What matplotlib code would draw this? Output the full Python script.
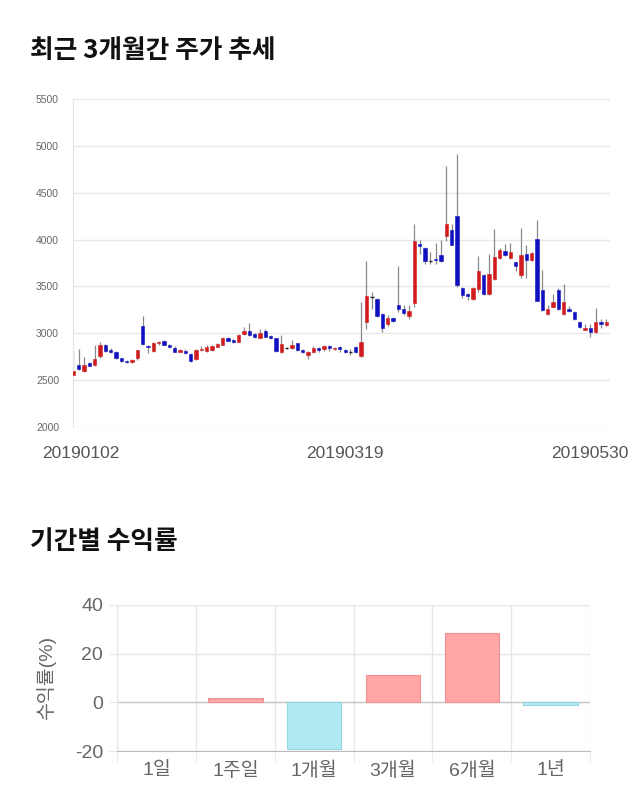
import numpy as np
import matplotlib
matplotlib.use('Agg')
import matplotlib.pyplot as plt

plt.rcParams['font.family'] = ['Liberation Sans', 'Noto Sans CJK KR']
plt.rcParams['axes.unicode_minus'] = False

# daily candles, 2019-01-02 .. 2019-05-30 (trading days)
opens = [2560, 2665, 2595, 2680, 2665, 2760, 2880, 2820, 2805, 2735,
         2705, 2690, 2735, 3080, 2865, 2815, 2895, 2920, 2880, 2845,
         2805, 2815, 2775, 2730, 2825, 2814, 2825, 2857, 2879, 2950,
         2929, 2911, 2993, 3029, 2993, 2950, 3029, 2975, 2946, 2804,
         2839, 2839, 2893, 2821, 2768, 2804, 2839, 2832, 2861, 2832,
         2850, 2821, 2804, 2850, 2754, 3118, 3386, 3368, 3207, 3100,
         3164, 3304, 3261, 3189, 3321, 3957, 3911, 3771, 3796, 3839,
         4039, 4107, 4250, 3482, 3421, 3361, 3475, 3618, 3418, 3582,
         3807, 3879, 3807, 3761, 3625, 3850, 3779, 4004, 3457, 3207,
         3279, 3464, 3207, 3261, 3225, 3125, 3039, 3054, 3011, 3118,
         3089]
highs = [2810, 2830, 2745, 2690, 2870, 2905, 2890, 2845, 2815, 2740,
         2715, 2730, 2825, 3180, 2870, 2910, 2915, 2930, 2890, 2860,
         2830, 2835, 2790, 2830, 2860, 2870, 2880, 2900, 2960, 2965,
         2935, 2990, 3064, 3107, 3000, 3050, 3050, 2985, 2950, 2982,
         2850, 2925, 2900, 2830, 2815, 2860, 2850, 2870, 2870, 2855,
         2860, 2830, 2830, 2860, 3330, 3768, 3439, 3380, 3215, 3200,
         3170, 3714, 3300, 3304, 4161, 3996, 3920, 3868, 3968, 3993,
         4789, 4171, 4911, 3490, 3430, 3490, 3821, 3630, 3850, 4118,
         3910, 3950, 3960, 3775, 4125, 3940, 3870, 4207, 3679, 3300,
         3420, 3480, 3529, 3290, 3235, 3130, 3100, 3100, 3268, 3150,
         3150]
lows = [2550, 2610, 2585, 2650, 2655, 2740, 2800, 2795, 2730, 2690,
        2685, 2685, 2720, 2880, 2790, 2805, 2880, 2870, 2840, 2800,
        2800, 2775, 2690, 2715, 2810, 2805, 2815, 2850, 2870, 2915,
        2895, 2905, 2985, 2975, 2955, 2945, 2960, 2940, 2800, 2790,
        2830, 2835, 2815, 2790, 2725, 2795, 2800, 2815, 2810, 2825,
        2805, 2790, 2770, 2790, 2750, 3046, 3261, 3170, 3011, 3080,
        3120, 3230, 3200, 3154, 3279, 3846, 3740, 3739, 3740, 3760,
        3985, 3940, 3490, 3380, 3360, 3355, 3440, 3410, 3410, 3570,
        3790, 3820, 3795, 3660, 3590, 3590, 3770, 3340, 3240, 3200,
        3270, 3250, 3200, 3230, 3140, 3060, 3030, 2964, 3005, 3060,
        3080]
closes = [2600, 2620, 2660, 2655, 2730, 2880, 2815, 2805, 2740, 2705,
          2690, 2715, 2820, 2885, 2850, 2895, 2910, 2880, 2850, 2805,
          2820, 2785, 2700, 2820, 2830, 2857, 2868, 2886, 2950, 2921,
          2904, 2982, 3029, 2982, 2964, 3004, 2964, 2950, 2807, 2886,
          2839, 2879, 2821, 2796, 2804, 2839, 2825, 2861, 2839, 2846,
          2832, 2804, 2804, 2796, 2904, 3396, 3386, 3182, 3054, 3161,
          3129, 3254, 3214, 3236, 3986, 3929, 3771, 3771, 3779, 3771,
          4171, 3946, 3511, 3411, 3396, 3482, 3661, 3418, 3636, 3814,
          3893, 3832, 3868, 3718, 3839, 3779, 3857, 3343, 3250, 3261,
          3339, 3261, 3339, 3236, 3154, 3071, 3054, 3011, 3118, 3100,
          3118]
date_ticks = [0, 50, 100]
date_labels = ['20190102', '20190319', '20190530']

periods = ['1일', '1주일', '1개월', '3개월', '6개월', '1년']
returns = [0.0, 1.7, -19.2, 11.1, 28.4, -1.0]

fig = plt.figure(figsize=(6.4, 8.1), dpi=100)

fig.text(0.047, 0.938, '최근 3개월간 주가 추세', family='Noto Sans CJK KR',
         fontsize=18.5, fontweight='bold', va='center', color='#111111')
fig.text(0.047, 0.331, '기간별 수익률', family='Noto Sans CJK KR',
         fontsize=18.5, fontweight='bold', va='center', color='#111111')

# --- candle chart ---
ax = fig.add_axes([0.114, 0.4728, 0.839, 0.405])
o = np.array(opens)
h = np.array(highs)
l = np.array(lows)
c = np.array(closes)
x = np.arange(len(o))
cols = np.where(c > o, '#d01c1f', '#1010c0')
ax.vlines(x, l, h, color='#888888', linewidth=0.9, zorder=2)
body = np.maximum(np.abs(c - o), 1)
mask = c != o
ax.bar(x[mask], body[mask], bottom=np.minimum(o, c)[mask], width=0.62,
       color=cols[mask], edgecolor=cols[mask], linewidth=0.4, zorder=3)
ax.hlines(o[~mask], x[~mask] - 0.35, x[~mask] + 0.35, color='#222222',
          linewidth=1.0, zorder=3)

ax.set_xlim(-0.1, 100.7)
ax.set_ylim(2000, 5500)
ax.set_yticks(np.arange(2000, 5501, 500))
ax.tick_params(axis='y', length=0, pad=10, labelsize=7.5, labelcolor='#666666')
ax.set_xticks([t + d for t, d in zip(date_ticks, [1.3, 1.0, -3.0])])
ax.set_xticklabels(date_labels)
ax.tick_params(axis='x', length=0, pad=14, labelsize=12.5, labelcolor='#555555')
ax.grid(axis='y', color='#e8e8e8', linewidth=1)
ax.set_axisbelow(True)
for s in ['top', 'right', 'bottom']:
    ax.spines[s].set_visible(False)
ax.spines['left'].set_color('#e3e3e3')

# --- returns chart ---
bx = fig.add_axes([0.183, 0.0728, 0.739, 0.1803])
pos = np.arange(len(periods))
vals = np.array(returns)
nz = vals != 0
bar_cols = np.where(vals >= 0, '#ffa6a6', '#b1e9f2')
edge_cols = np.where(vals >= 0, '#f09090', '#95d8e4')
bx.bar(pos[nz], vals[nz], width=0.69, color=bar_cols[nz],
       edgecolor=edge_cols[nz], linewidth=0.8, zorder=3)
bx.set_xlim(-0.5, len(periods) - 0.5)
bx.set_ylim(-20, 40)
bx.set_yticks([-20, 0, 20, 40])
bx.set_xticks(pos)
bx.set_xticklabels(periods)
bx.set_xticks(np.arange(len(periods) + 1) - 0.5, minor=True)
bx.grid(axis='y', color='#e6e6e6', linewidth=1)
bx.grid(axis='x', which='minor', color='#e6e6e6', linewidth=1)
bx.axhline(0, color='#c8c8c8', linewidth=1, zorder=2)
bx.set_axisbelow(True)
bx.tick_params(axis='x', which='major', length=0, pad=8, labelsize=14, labelcolor='#666666')
bx.tick_params(axis='x', which='minor', length=8, color='#e6e6e6')
bx.tick_params(axis='y', length=6, color='#e6e6e6', pad=4, labelsize=14, labelcolor='#666666')
bx.set_ylabel('수익률(%)', fontsize=14, color='#666666', labelpad=14)
for s in ['top', 'right']:
    bx.spines[s].set_visible(False)
bx.spines['left'].set_color('#e6e6e6')
bx.spines['bottom'].set_color('#bbbbbb')

fig.savefig('out.png', dpi=100)
